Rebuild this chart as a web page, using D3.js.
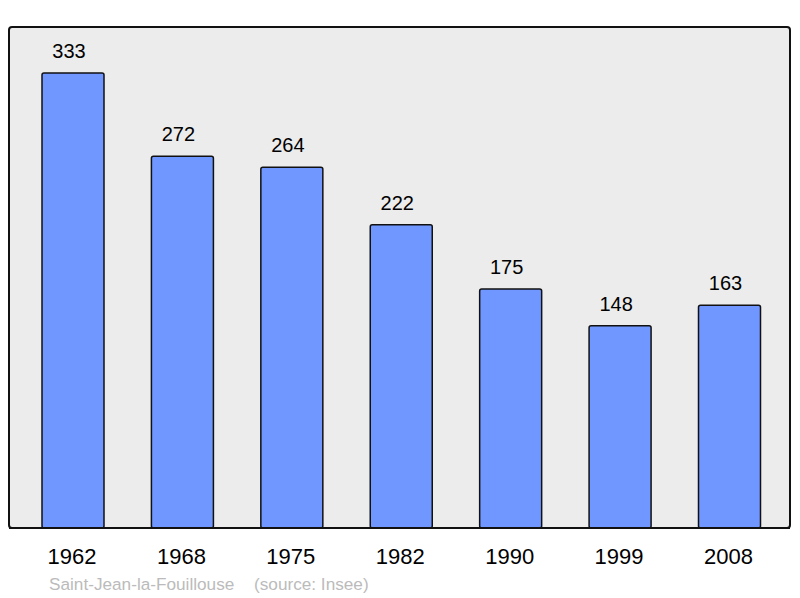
<!DOCTYPE html>
<html>
<head>
<meta charset="utf-8">
<script src="https://cdn.jsdelivr.net/npm/d3@7"></script>
<style>
  body { margin: 0; background: #fff; }
  svg { display: block; font-family: "Liberation Sans", Arial, sans-serif; }
</style>
</head>
<body>
<svg id="chart" width="800" height="598"></svg>
<script>
const years = ['1962', '1968', '1975', '1982', '1990', '1999', '2008']
const population = [333, 272, 264, 222, 175, 148, 163]
const commune = 'Saint-Jean-la-Fouillouse'
const source = '(source: Insee)'

const svg = d3.select('#chart')

const frame = {left: 9, top: 27, right: 790, bottom: 528}
const barWidth = 62

const xScale = d3.scalePoint().domain(years).range([73, 729.5])
const yScale = d3.scaleLinear().domain([0, 333]).range([frame.bottom, 73])

svg.append('rect')
    .attr('x', frame.left)
    .attr('y', frame.top)
    .attr('width', frame.right - frame.left)
    .attr('height', frame.bottom - frame.top)
    .attr('rx', 3)
    .attr('fill', '#ececec')
    .attr('stroke', '#111')
    .attr('stroke-width', 2)

const data = years.map((y, i) => ({year: y, value: population[i]}))

svg.selectAll('.bar').data(data).enter().append('rect')
    .attr('class', 'bar')
    .attr('x', d => xScale(d.year) - barWidth / 2)
    .attr('y', d => yScale(d.value))
    .attr('width', barWidth)
    .attr('height', d => frame.bottom - yScale(d.value))
    .attr('rx', 2)
    .attr('fill', '#7096ff')
    .attr('stroke', '#111')
    .attr('stroke-width', 1.5)

// redraw bottom frame line over bars
svg.append('line')
    .attr('x1', frame.left).attr('x2', frame.right)
    .attr('y1', frame.bottom).attr('y2', frame.bottom)
    .attr('stroke', '#111')
    .attr('stroke-width', 2)

// value labels sit slightly left of the bar centre in the original
svg.selectAll('.val').data(data).enter().append('text')
    .attr('class', 'val')
    .attr('x', d => xScale(d.year) - 4)
    .attr('y', d => yScale(d.value) - 15)
    .attr('text-anchor', 'middle')
    .attr('font-size', 20)
    .attr('fill', '#000')
    .text(d => d.value)

svg.selectAll('.year').data(years).enter().append('text')
    .attr('class', 'year')
    .attr('x', d => xScale(d) - 1)
    .attr('y', 564)
    .attr('text-anchor', 'middle')
    .attr('font-size', 22)
    .attr('fill', '#000')
    .text(d => d)

svg.append('text')
    .attr('x', 49)
    .attr('y', 590)
    .attr('font-size', 17.2)
    .attr('fill', '#bbb')
    .text(commune)

svg.append('text')
    .attr('x', 254)
    .attr('y', 590)
    .attr('font-size', 17.2)
    .attr('fill', '#bbb')
    .text(source)
</script>
</body>
</html>
